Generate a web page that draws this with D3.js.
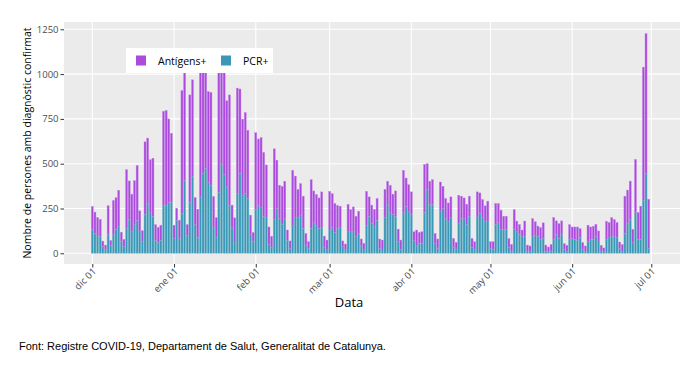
<!DOCTYPE html>
<html>
<head>
<meta charset="utf-8">
<script src="https://cdn.jsdelivr.net/npm/d3@7"></script>
<style>
  body { margin: 0; background: #fff; }
  svg { display: block; }
</style>
</head>
<body>
<div id="chart1"></div>
<script>

// first day of the series, one bar per day after it
const startDate = '2020-12-01';

// PCR+ per day (bottom of the stack)
const pcr = [
  133, 110, 97, 93, 38, 22, 105, 44, 105, 135, 152, 68, 37, 139, 190, 120, 160, 183, 125, 68,
  218, 278, 226, 207, 73, 62, 73, 267, 269, 284, 284, 82, 185, 82, 222, 408, 101, 284, 431, 160,
  90, 315, 446, 474, 395, 380, 147, 91, 340, 496, 440, 371, 269, 142, 63, 334, 446, 325, 334, 306,
  104, 67, 244, 269, 254, 207, 200, 49, 35, 188, 250, 194, 163, 193, 74, 26, 154, 198, 198, 211,
  139, 46, 28, 139, 170, 154, 139, 144, 33, 19, 130, 144, 117, 139, 143, 37, 19, 120, 120, 120,
  93, 111, 41, 19, 157, 207, 167, 152, 185, 28, 19, 198, 272, 226, 218, 207, 65, 22, 226, 263,
  231, 218, 70, 41, 56, 56, 228, 354, 272, 272, 56, 28, 237, 250, 194, 176, 198, 33, 24, 167,
  194, 194, 161, 207, 33, 22, 204, 222, 198, 176, 181, 28, 22, 161, 170, 133, 133, 133, 33, 13,
  133, 120, 106, 93, 96, 13, 13, 96, 98, 96, 78, 85, 13, 9, 13, 78, 107, 83, 107, 22,
  9, 80, 83, 78, 74, 89, 22, 9, 65, 78, 78, 93, 65, 13, 9, 78, 87, 96, 93, 87,
  28, 9, 111, 167, 189, 59, 226, 78, 78, 297, 446, 28
];

// Antígens+ per day (stacked on top)
const antigens = [
  129, 120, 103, 97, 30, 24, 161, 28, 190, 175, 200, 50, 41, 328, 214, 210, 245, 307, 112, 58,
  404, 365, 296, 324, 87, 83, 84, 526, 528, 466, 386, 75, 67, 103, 686, 672, 59, 600, 537, 151,
  156, 765, 654, 586, 508, 518, 170, 109, 740, 584, 610, 480, 615, 127, 135, 588, 471, 424, 452, 381,
  109, 49, 429, 369, 392, 356, 293, 98, 60, 395, 270, 186, 211, 209, 56, 43, 309, 233, 159, 178,
  180, 65, 37, 272, 178, 174, 170, 199, 63, 55, 216, 189, 161, 128, 120, 32, 33, 154, 124, 139,
  114, 124, 39, 37, 189, 108, 102, 94, 121, 52, 55, 159, 130, 154, 112, 141, 70, 52, 237, 157,
  152, 125, 50, 89, 61, 64, 268, 146, 130, 139, 55, 52, 161, 124, 112, 105, 117, 50, 37, 157,
  125, 115, 113, 112, 50, 43, 139, 115, 102, 89, 110, 37, 43, 117, 108, 108, 74, 74, 50, 37,
  111, 60, 55, 37, 84, 33, 28, 98, 78, 56, 66, 85, 33, 26, 36, 122, 74, 83, 74, 32,
  36, 80, 64, 69, 73, 49, 38, 32, 92, 69, 73, 69, 60, 32, 21, 101, 85, 104, 95, 85,
  35, 40, 208, 186, 214, 75, 298, 150, 185, 742, 780, 274
];

const yTicks = [0, 250, 500, 750, 1000, 1250];
const xTickDates = ['2020-12-01', '2021-01-01', '2021-02-01', '2021-03-01', '2021-04-01', '2021-05-01', '2021-06-01', '2021-07-01'];
const xTickLabels = ['dic 01', 'ene 01', 'feb 01', 'mar 01', 'abr 01', 'may 01', 'jun 01', 'jul 01'];
const seriesNames = ['Antígens+', 'PCR+'];
const colors = { 'Antígens+': '#ac4ade', 'PCR+': '#3a97b6' };
const edgeColors = { 'Antígens+': '#c98ee9', 'PCR+': '#7dbfd3' };

const width = 694;
const height = 365;
const panel = { left: 64, right: 680, top: 22, bottom: 264 };
const font = '"Open Sans", verdana, arial, sans-serif';

function drawChart() {
    const parse = d3.utcParse('%Y-%m-%d');
    const start = parse(startDate);

    const rows = pcr.map((p, i) => ({
        date: d3.utcDay.offset(start, i),
        pcr: p,
        ant: antigens[i]
    }));

    const x = d3.scaleUtc()
        .domain([parse('2020-12-01'), parse('2021-07-01')])
        .range([92.3, 651.3]);

    const y = d3.scaleLinear()
        .domain([0, 1250])
        .range([253.3, 29.3]);

    const dayW = x(d3.utcDay.offset(start, 1)) - x(start);
    const barW = dayW * 0.78;

    const svg = d3.select('#chart1')
        .append('svg')
        .attr('width', width)
        .attr('height', height);

    // grey panel
    svg.append('rect')
        .attr('x', panel.left)
        .attr('y', panel.top)
        .attr('width', panel.right - panel.left)
        .attr('height', panel.bottom - panel.top)
        .attr('fill', '#ebebeb');

    // grid
    svg.append('g')
        .selectAll('line')
        .data(yTicks)
        .enter()
        .append('line')
        .attr('x1', panel.left)
        .attr('x2', panel.right)
        .attr('y1', d => y(d))
        .attr('y2', d => y(d))
        .attr('stroke', '#fff')
        .attr('stroke-width', 1.1);

    svg.append('g')
        .selectAll('line')
        .data(xTickDates)
        .enter()
        .append('line')
        .attr('x1', d => x(parse(d)))
        .attr('x2', d => x(parse(d)))
        .attr('y1', panel.top)
        .attr('y2', panel.bottom)
        .attr('stroke', '#fff')
        .attr('stroke-width', 1.1);

    // stacked bars, PCR at the bottom
    const stack = d3.stack().keys(['pcr', 'ant'])(rows);
    const layers = svg.append('g')
        .selectAll('g')
        .data(stack)
        .enter()
        .append('g')
        .attr('fill', (d, i) => i === 0 ? colors['PCR+'] : colors['Antígens+'])
        .attr('stroke', (d, i) => i === 0 ? edgeColors['PCR+'] : edgeColors['Antígens+'])
        .attr('stroke-width', 0.4);

    layers.selectAll('rect')
        .data(d => d)
        .enter()
        .append('rect')
        .attr('x', d => x(d.data.date) - barW / 2)
        .attr('y', d => y(d[1]))
        .attr('width', barW)
        .attr('height', d => y(d[0]) - y(d[1]));

    // y axis
    const yAxis = svg.append('g')
        .attr('transform', `translate(${panel.left},0)`)
        .call(d3.axisLeft(y).tickValues(yTicks).tickFormat(d3.format('d')).tickSize(3.5).tickPadding(2));
    yAxis.select('.domain').remove();
    yAxis.selectAll('line').attr('stroke', '#333');
    yAxis.selectAll('text')
        .attr('fill', '#4d4d4d')
        .style('font-family', font)
        .style('font-size', '9.5px');

    // x axis
    const xAxis = svg.append('g')
        .attr('transform', `translate(0,${panel.bottom})`)
        .call(d3.axisBottom(x)
            .tickValues(xTickDates.map(parse))
            .tickFormat((d, i) => xTickLabels[i])
            .tickSize(3.5));
    xAxis.select('.domain').remove();
    xAxis.selectAll('line').attr('stroke', '#333');
    xAxis.selectAll('text')
        .attr('fill', '#4d4d4d')
        .style('font-family', font)
        .style('font-size', '9.5px')
        .attr('text-anchor', 'end')
        .attr('dy', null)
        .attr('y', 0)
        .attr('transform', 'translate(4,8) rotate(-45)');

    // axis titles
    svg.append('text')
        .attr('x', 349)
        .attr('y', 307)
        .attr('text-anchor', 'middle')
        .style('font-family', font)
        .style('font-size', '13px')
        .text('Data');

    svg.append('text')
        .attr('transform', `translate(31,${(panel.top + panel.bottom) / 2}) rotate(-90)`)
        .attr('text-anchor', 'middle')
        .style('font-family', font)
        .style('font-size', '10.5px')
        .text('Nombre de persones amb diagnòstic confirmat');

    // legend on top of the bars
    const legend = svg.append('g').attr('transform', 'translate(126,48)');
    legend.append('rect')
        .attr('width', 147)
        .attr('height', 25)
        .attr('fill', '#fff');
    const items = legend.selectAll('g')
        .data(seriesNames)
        .enter()
        .append('g')
        .attr('transform', (d, i) => `translate(${i === 0 ? 10 : 95},0)`);
    items.append('rect')
        .attr('x', 0)
        .attr('y', 7.5)
        .attr('width', 10)
        .attr('height', 10)
        .attr('fill', d => colors[d]);
    items.append('text')
        .attr('x', 22)
        .attr('y', 16.5)
        .style('font-family', font)
        .style('font-size', '10.5px')
        .text(d => d);

    // source note
    svg.append('text')
        .attr('x', 19)
        .attr('y', 350)
        .style('font-family', '"Liberation Sans", Arial, sans-serif')
        .style('font-size', '11px')
        .text('Font: Registre COVID-19, Departament de Salut, Generalitat de Catalunya.');
}

drawChart();
</script>
</body>
</html>
